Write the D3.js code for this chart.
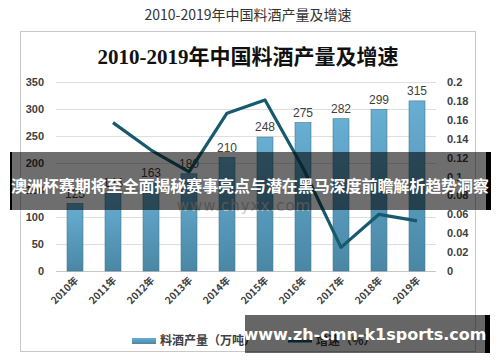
<!DOCTYPE html>
<html>
<head>
<meta charset="utf-8">
<script src="https://cdn.jsdelivr.net/npm/d3@7"></script>
<style>
  body { margin: 0; background: #fff; }
  svg { display: block; }
</style>
</head>
<body>
<div id="chart"></div>
<script>
// data
var years = ["2010年", "2011年", "2012年", "2013年", "2014年", "2015年", "2016年", "2017年", "2018年", "2019年"];
var output = [125, 144, 163, 180, 210, 248, 275, 282, 299, 315];
var growth = [null, 0.157, 0.128, 0.105, 0.167, 0.181, 0.109, 0.025, 0.060, 0.053];
var leftTicks = [0, 50, 100, 150, 200, 250, 300, 350];
var rightTicks = [0, 0.02, 0.04, 0.06, 0.08, 0.1, 0.12, 0.14, 0.16, 0.18, 0.2];

var width = 500, height = 362;
var plot = {left: 56, right: 436, top: 82, bottom: 271};
var cjk = "'Noto Sans CJK SC', 'Noto Sans', sans-serif";

var svg = d3.select("#chart").append("svg")
    .attr("width", width)
    .attr("height", height);

var defs = svg.append("defs");
var grad = defs.append("linearGradient")
    .attr("id", "barGrad")
    .attr("x1", 0).attr("y1", 0).attr("x2", 0).attr("y2", 1);
grad.append("stop").attr("offset", "0%").attr("stop-color", "#68afd3");
grad.append("stop").attr("offset", "100%").attr("stop-color", "#4a87a5");

// outer title
svg.append("text")
    .attr("x", 248).attr("y", 20)
    .attr("text-anchor", "middle")
    .style("font-family", cjk)
    .style("font-size", "14px")
    .style("fill", "#333")
    .text("2010-2019年中国料酒产量及增速");

// picture frame
svg.append("rect")
    .attr("x", 20.5).attr("y", 31.5)
    .attr("width", 455).attr("height", 320)
    .style("fill", "#fff")
    .style("stroke", "#c8c8c8");

// inner title
svg.append("text")
    .attr("x", 248).attr("y", 64)
    .attr("text-anchor", "middle")
    .style("font-family", "'Liberation Serif', 'Noto Sans CJK SC', serif")
    .style("font-size", "21px")
    .style("font-weight", "bold")
    .style("fill", "#111")
    .text("2010-2019年中国料酒产量及增速");

var x = d3.scaleBand()
    .domain(years)
    .range([plot.left, plot.right])
    .paddingInner(0.58)
    .paddingOuter(0.29);

var y = d3.scaleLinear()
    .domain([0, 350])
    .range([plot.bottom, plot.top]);

var y2 = d3.scaleLinear()
    .domain([0, 0.2])
    .range([plot.bottom, plot.top]);

// grid lines
svg.append("g")
    .selectAll("line")
    .data(leftTicks)
    .join("line")
    .attr("x1", plot.left).attr("x2", plot.right)
    .attr("y1", function(d) { return Math.round(y(d)) + 0.5; })
    .attr("y2", function(d) { return Math.round(y(d)) + 0.5; })
    .style("stroke", function(d) { return d === 0 ? "#c6c6c6" : "#dedede"; });

// left axis
var leftAxis = svg.append("g")
    .attr("transform", "translate(" + (plot.left - 12) + ",0)")
    .call(d3.axisLeft(y).tickValues(leftTicks).tickSize(0).tickPadding(0));
leftAxis.select(".domain").remove();

// right axis
var rightAxis = svg.append("g")
    .attr("transform", "translate(447,0)")
    .call(d3.axisRight(y2).tickValues(rightTicks).tickSize(0).tickPadding(0)
        .tickFormat(function(d) { return String(+d.toFixed(2)); }));
rightAxis.select(".domain").remove();

svg.selectAll(".tick text")
    .style("font-family", "'Liberation Sans', 'DejaVu Sans', sans-serif")
    .style("font-size", "11px")
    .style("font-weight", "bold")
    .style("fill", "#404040");

// bars
svg.append("g")
    .selectAll("rect")
    .data(output)
    .join("rect")
    .attr("x", function(d, i) { return x(years[i]); })
    .attr("y", function(d) { return y(d); })
    .attr("width", x.bandwidth())
    .attr("height", function(d) { return plot.bottom - y(d); })
    .style("fill", "url(#barGrad)")
    .style("stroke", "#3f7891")
    .style("stroke-width", 0.6);

// bar labels
svg.append("g")
    .selectAll("text")
    .data(output)
    .join("text")
    .attr("x", function(d, i) { return x(years[i]) + x.bandwidth() / 2; })
    .attr("y", function(d) { return y(d) - 6; })
    .attr("text-anchor", "middle")
    .style("font-family", "'Liberation Sans', 'DejaVu Sans', sans-serif")
    .style("font-size", "12px")
    .style("fill", "#404040")
    .text(function(d) { return d; });

// watermark
svg.append("text")
    .attr("x", 244).attr("y", 211)
    .attr("text-anchor", "middle")
    .style("font-family", "'DejaVu Sans', sans-serif")
    .style("font-size", "15px")
    .style("letter-spacing", "1px")
    .style("fill", "#c8c8c8")
    .text("www.chyxx.com");

// growth line
var line = d3.line()
    .defined(function(d) { return d !== null; })
    .x(function(d, i) { return x(years[i]) + x.bandwidth() / 2; })
    .y(function(d) { return y2(d); });

svg.append("path")
    .datum(growth)
    .attr("d", line)
    .style("fill", "none")
    .style("stroke", "#175a6d")
    .style("stroke-width", 3.2)
    .style("stroke-linejoin", "round");

// x labels
svg.append("g")
    .selectAll("text")
    .data(years)
    .join("text")
    .attr("transform", function(d) {
        return "translate(" + (x(d) + x.bandwidth() / 2 + 4) + "," + (plot.bottom + 10) + ") rotate(-45)";
    })
    .attr("text-anchor", "end")
    .style("font-family", cjk)
    .style("font-size", "10px")
    .style("font-weight", "bold")
    .style("fill", "#404040")
    .text(function(d) { return d; });

// legend
var legend = svg.append("g").attr("transform", "translate(132,341)");
legend.append("rect")
    .attr("x", 0).attr("y", -3)
    .attr("width", 24).attr("height", 6)
    .style("fill", "url(#barGrad)");
legend.append("text")
    .attr("x", 28).attr("y", 4)
    .style("font-family", cjk)
    .style("font-size", "12px")
    .style("font-weight", "bold")
    .style("fill", "#404040")
    .text("料酒产量（万吨）");
legend.append("line")
    .attr("x1", 156).attr("x2", 180)
    .attr("y1", 0).attr("y2", 0)
    .style("stroke", "#175a6d")
    .style("stroke-width", 3);
legend.append("text")
    .attr("x", 184).attr("y", 4)
    .style("font-family", cjk)
    .style("font-size", "12px")
    .style("font-weight", "bold")
    .style("fill", "#404040")
    .text("增速（%）");

// headline overlay
svg.append("rect")
    .attr("x", 10).attr("y", 152)
    .attr("width", 481).attr("height", 58)
    .style("fill", "rgba(0,0,0,0.57)");
svg.append("rect")
    .attr("x", 10).attr("y", 152)
    .attr("width", 2).attr("height", 58)
    .style("fill", "#000");
svg.append("rect")
    .attr("x", 486).attr("y", 152)
    .attr("width", 5).attr("height", 58)
    .style("fill", "#000");
svg.append("text")
    .attr("x", 250).attr("y", 192)
    .attr("text-anchor", "middle")
    .attr("textLength", 478)
    .style("font-family", cjk)
    .style("font-size", "16px")
    .style("font-weight", "bold")
    .style("fill", "#fff")
    .text("澳洲杯赛期将至全面揭秘赛事亮点与潜在黑马深度前瞻解析趋势洞察");

// site overlay
svg.append("rect")
    .attr("x", 245).attr("y", 315)
    .attr("width", 245).attr("height", 38)
    .style("fill", "rgba(0,0,0,0.6)");
svg.append("rect")
    .attr("x", 485).attr("y", 315)
    .attr("width", 5).attr("height", 38)
    .style("fill", "#000");
svg.append("text")
    .attr("x", 365).attr("y", 340)
    .attr("text-anchor", "middle")
    .style("font-family", "'DejaVu Sans', sans-serif")
    .style("font-size", "16px")
    .style("font-weight", "bold")
    .style("fill", "#fff")
    .text("www.zh-cmn-k1sports.com");
</script>
</body>
</html>
